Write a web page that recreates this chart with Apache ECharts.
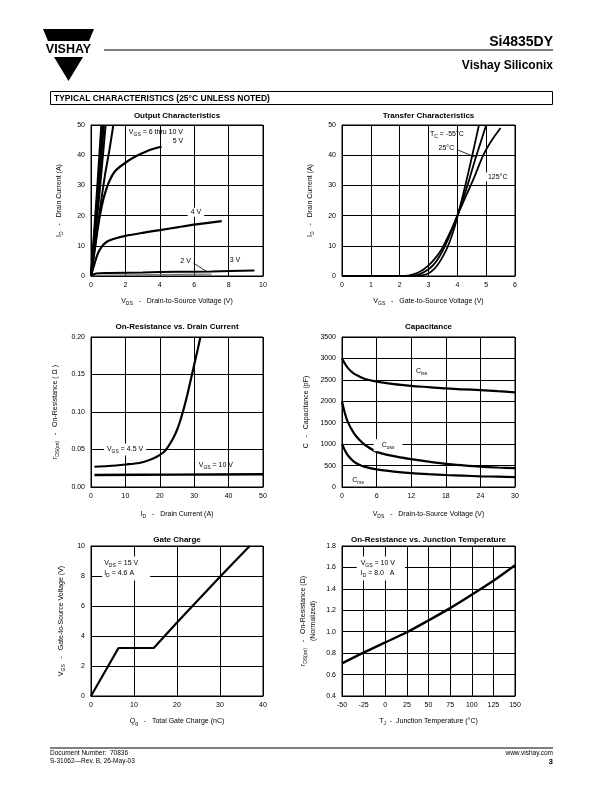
<!DOCTYPE html>
<html><head><meta charset="utf-8">
<script src="https://cdn.jsdelivr.net/npm/echarts@6/dist/echarts.min.js"></script>
<style>html,body{margin:0;padding:0;background:#fff}#c{width:612px;height:792px}</style>
</head><body><div id="c"></div>
<script>
// ---------- DATA ----------
// Output characteristics (VDS V, ID A)
const out10V = [[0,0],[0.3,24],[0.6,50]];
const out9V  = [[0,0],[0.33,24],[0.67,50]];
const out8V  = [[0,0],[0.37,23.5],[0.75,50]];
const out7V  = [[0,0],[0.42,23],[0.85,50]];
const out6V  = [[0,0],[0.4,17],[0.8,33],[1.05,41],[1.3,50]];
const out5V  = [[0,0],[0.2,8],[0.4,16],[0.55,21],[0.7,25],[0.85,28],[1.0,30.5],[1.25,33.5],[1.5,35.3],[2,37.5],[2.5,39.3],[3,40.7],[3.5,41.9],[4.1,42.8]];
const out4V  = [[0,0],[0.2,4],[0.4,7.5],[0.6,9.5],[0.8,10.8],[1,11.6],[1.5,12.6],[2,13.3],[3,14.3],[4,15.2],[5,16.1],[6,17],[7.6,18.2]];
const out3V  = [[0,0],[0.3,0.8],[1,1.0],[3,1.2],[5,1.4],[7,1.5],[9.5,1.8]];
const out2V  = [[0,0],[1,0.3],[7,0.6]];
// Transfer characteristics (VGS V, ID A)
const trM55 = [[0,0],[2.6,0],[2.9,0.5],[3.1,1.5],[3.3,3.5],[3.5,6.5],[3.7,10.5],[3.9,16],[4.0,19.5],[4.2,27],[4.4,35],[4.6,43.5],[4.75,50]];
const tr25  = [[0,0],[2.4,0],[2.7,0.6],[3.0,2.2],[3.2,4],[3.4,6.8],[3.6,10.5],[3.8,15],[4.0,20],[4.2,25.5],[4.4,31.5],[4.6,38],[4.8,44],[5.0,50]];
const tr125 = [[0,0],[2.2,0],[2.5,0.6],[2.8,2],[3.0,3.5],[3.2,5.5],[3.4,8],[3.6,11.5],[3.8,15.5],[4.0,20],[4.3,26.5],[4.6,33],[4.9,40],[5.2,45],[5.5,49]];
// On-resistance vs drain current (ID A, rDS(on) ohm)
const ron45 = [[1,0.027],[5,0.028],[10,0.030],[14,0.032],[17,0.036],[19,0.040],[21,0.046],[22,0.051],[23,0.058],[24,0.066],[25,0.076],[26,0.089],[26.5,0.097],[27,0.105],[28,0.123],[29,0.143],[30,0.163],[31,0.183],[31.8,0.2]];
const ron10 = [[1,0.016],[25,0.0165],[50,0.017]];
// Capacitance (VDS V, pF)
const cIss = [[0,3000],[0.5,2880],[1,2780],[2,2650],[3,2580],[4,2520],[6,2460],[9,2400],[12,2360],[15,2330],[18,2300],[21,2280],[24,2260],[27,2235],[30,2210]];
const cOss = [[0,2000],[0.5,1720],[1,1520],[2,1270],[3,1100],[4,980],[6,820],[9,720],[12,650],[15,590],[18,540],[21,505],[24,475],[27,455],[30,440]];
const cRss = [[0,1000],[0.5,860],[1,740],[2,600],[3,520],[4,470],[6,410],[9,360],[12,325],[15,300],[18,280],[21,265],[24,250],[27,240],[30,230]];
// Gate charge (Qg nC, VGS V)
const gate = [[0,0],[6.4,3.2],[14.6,3.2],[20,4.9],[30,7.95],[36.9,10]];
// On-resistance vs junction temperature (TJ C, normalized)
const ronTj = [[-50,0.705],[-25,0.805],[0,0.9],[25,0.995],[50,1.105],[75,1.22],[100,1.345],[125,1.475],[150,1.62]];

// ---------- CHART ----------
const F = 'Liberation Sans';
const chart = echarts.init(document.getElementById('c'), null, {renderer:'canvas'});
const grids = [
  {left:91, top:125, width:172, height:151},
  {left:342, top:125, width:173, height:151},
  {left:91, top:337, width:172, height:150},
  {left:342, top:337, width:173, height:150},
  {left:91, top:546, width:172, height:150},
  {left:342, top:546, width:173, height:150}
].map(g => Object.assign({show:true, borderColor:'#000', borderWidth:1, containLabel:false}, g));

const rich = {
  n:{fontSize:7, fontFamily:F, color:'#000', lineHeight:10, verticalAlign:'middle'},
  s:{fontSize:5, fontFamily:F, color:'#000', lineHeight:6, verticalAlign:'bottom'},
  b:{fontSize:7, fontFamily:F, color:'#000', lineHeight:10}
};
function axis(type, gi, min, max, interval, name, gap, fmt){
  const o = {
    type:'value', gridIndex:gi, min, max, interval,
    name, nameLocation:'middle', nameGap:gap,
    nameTextStyle:{fontSize:7, fontFamily:F, color:'#000', rich},
    axisLine:{show:true, onZero:false, lineStyle:{color:'#000', width:1}},
    axisTick:{show:false},
    axisLabel:{fontSize:7, fontFamily:F, color:'#000', margin:6, formatter:fmt},
    splitLine:{show:true, lineStyle:{color:'#000', width:1}}
  };
  if (type === 'y') o.nameRotate = 90;
  return o;
}
const f0 = v => String(v);
const f2 = v => v.toFixed(2);
const f1 = v => v.toFixed(1);
const xAxes = [
  axis('x',0,0,10,2,'{n|V}{s|DS}{n|   -   Drain-to-Source Voltage (V)}',20,f0),
  axis('x',1,0,6,1,'{n|V}{s|GS}{n|   -   Gate-to-Source Voltage (V)}',20,f0),
  axis('x',2,0,50,10,'{n|I}{s|D}{n|   -   Drain Current (A)}',22,f0),
  axis('x',3,0,30,6,'{n|V}{s|DS}{n|   -   Drain-to-Source Voltage (V)}',22,f0),
  axis('x',4,0,40,10,'{n|Q}{s|g}{n|   -   Total Gate Charge (nC)}',20,f0),
  axis('x',5,-50,150,25,'{n|T}{s|J}{n|  -  Junction Temperature (°C)}',20,f0)
];
const yAxes = [
  axis('y',0,0,50,10,'{n|I}{s|D}{n|   -   Drain Current (A)}',27,f0),
  axis('y',1,0,50,10,'{n|I}{s|D}{n|   -   Drain Current (A)}',27,f0),
  axis('y',2,0,0.2,0.05,'{n|r}{s|DS(on)}{n|   -   On-Resistance ( Ω )}',31,f2),
  axis('y',3,0,3500,500,'{n|C   -   Capacitance (pF)}',31,f0),
  axis('y',4,0,10,2,'{n|V}{s|GS}{n|   -   Gate-to-Source Voltage (V)}',25,f0),
  axis('y',5,0.4,1.8,0.2,'{n|r}{s|DS(on)}{n|   -   On-Resistance (Ω)}\n{n|(Normalized)}',24,f1)
];
function line(gi, data, w, color){
  return {type:'line', xAxisIndex:gi, yAxisIndex:gi, data, showSymbol:false, smooth:0.3,
    lineStyle:{color:color||'#000', width:w}, silent:true, animation:false, z:3};
}
const series = [
  line(0,out2V,1.2,'#777'), line(0,out3V,2), line(0,out4V,2.2), line(0,out5V,2.2),
  line(0,out6V,2), line(0,out7V,2), line(0,out8V,2), line(0,out9V,2), line(0,out10V,2),
  line(1,trM55,1.8), line(1,tr25,1.8), line(1,tr125,1.8),
  line(2,ron45,2.2), line(2,ron10,2.4),
  line(3,cIss,2.2), line(3,cOss,2.2), line(3,cRss,2.2),
  Object.assign(line(4,gate,2.2),{smooth:false}),
  line(5,ronTj,2.4)
];
chart.setOption({animation:false, grid:grids, xAxis:xAxes, yAxis:yAxes, series});

// ---------- ANNOTATIONS ----------
const T = (x,y,text,opt) => ({type:'text', x, y, z:20, style:Object.assign({text, fontFamily:F, fontSize:7, fill:'#000', rich}, opt||{})});
const P = (gi, pt) => chart.convertToPixel({gridIndex:gi}, pt);
function dtext(gi, pt, text, opt){ const p = P(gi,pt); return T(p[0], p[1], text, Object.assign({align:'center', verticalAlign:'middle'}, opt||{})); }
function dline(gi, a, b){ const p=P(gi,a), q=P(gi,b); return {type:'line', z:20, shape:{x1:p[0],y1:p[1],x2:q[0],y2:q[1]}, style:{stroke:'#000', lineWidth:0.8}}; }
const wbg = {backgroundColor:'#fff', padding:[1,3,1,3]};
const titles = ['Output Characteristics','Transfer Characteristics','On-Resistance vs. Drain Current','Capacitance','Gate Charge','On-Resistance vs. Junction Temperature'];
const titleY = [116,116,327,327,540,540];
const g = [];
grids.forEach((gr,i)=>{ g.push(T(gr.left+gr.width/2, titleY[i], titles[i], {align:'center', verticalAlign:'middle', fontSize:8, fontWeight:'bold'})); });

g.push(dtext(0,[2.2,47.7],'{n|V}{s|GS}{n| = 6 thru 10 V}',{align:'left'}));
g.push(dtext(0,[5.06,44.7],'5 V'));
g.push(dtext(0,[6.1,21.1],'4 V',wbg));
g.push(dtext(0,[5.5,4.9],'2 V'));
g.push(dline(0,[5.95,4.3],[6.75,1.4]));
g.push(dtext(0,[8.37,5.2],'3 V'));

g.push(dtext(1,[3.05,47.0],'{n|T}{s|C}{n| = -55°C}',{align:'left'}));
g.push(dtext(1,[3.62,42.3],'25°C'));
g.push(dline(1,[4.0,41.8],[4.63,39.3]));
g.push(dtext(1,[5.4,32.8],'125°C',wbg));

g.push(dtext(2,[9.9,0.05],'{n|V}{s|GS}{n| = 4.5 V}',wbg));
g.push(dtext(2,[36.3,0.029],'{n|V}{s|GS}{n| = 10 V}'));

g.push(dtext(3,[13.8,2706],'{n|C}{s|iss}'));
g.push(dtext(3,[8.0,976],'{n|C}{s|oss}',Object.assign({},wbg,{padding:[1,8,1,8]})));
g.push(dtext(3,[2.8,168],'{n|C}{s|rss}'));

g.push(dtext(4,[2.6,8.5],'{n|V}{s|DS}{n| = 15 V}\n{n|I}{s|D}{n| = 4.6 A}',{align:'left', backgroundColor:'#fff', padding:[2,12,2,2]}));
g.push(dtext(5,[-33,1.59],'{n|V}{s|GS}{n| = 10 V}\n{n|I}{s|D}{n| = 8.0   A}',{align:'left', backgroundColor:'#fff', padding:[2,10,2,4]}));

// Header: logo
g.push({type:'polygon', shape:{points:[[43,29],[94,29],[89,41],[48,41]]}, style:{fill:'#000'}});
g.push(T(68.5,50,'VISHAY',{align:'center', verticalAlign:'middle', fontSize:12.5, fontWeight:'bold'}));
g.push({type:'polygon', shape:{points:[[54,57],[83,57],[68.5,81]]}, style:{fill:'#000'}});
g.push(T(553,42,'Si4835DY',{align:'right', verticalAlign:'middle', fontSize:14, fontWeight:'bold'}));
g.push({type:'line', shape:{x1:104,y1:50,x2:553,y2:50}, style:{stroke:'#000', lineWidth:1}});
g.push(T(553,66,'Vishay Siliconix',{align:'right', verticalAlign:'middle', fontSize:12, fontWeight:'bold'}));
g.push({type:'rect', shape:{x:50.5,y:91.5,width:502,height:13}, style:{fill:'none', stroke:'#000', lineWidth:1}});
g.push(T(54,98.5,'TYPICAL CHARACTERISTICS (25°C UNLESS NOTED)',{align:'left', verticalAlign:'middle', fontSize:8.5, fontWeight:'bold'}));
// Footer
g.push({type:'line', shape:{x1:50,y1:748,x2:553,y2:748}, style:{stroke:'#000', lineWidth:1}});
g.push(T(50,753,'Document Number:  70836',{align:'left', verticalAlign:'middle', fontSize:6.5}));
g.push(T(50,761,'S-31062—Rev. B, 26-May-03',{align:'left', verticalAlign:'middle', fontSize:6.5}));
g.push(T(553,753,'www.vishay.com',{align:'right', verticalAlign:'middle', fontSize:6.5}));
g.push(T(553,762,'3',{align:'right', verticalAlign:'middle', fontSize:8, fontWeight:'bold'}));

chart.setOption({graphic:g});
</script></body></html>
